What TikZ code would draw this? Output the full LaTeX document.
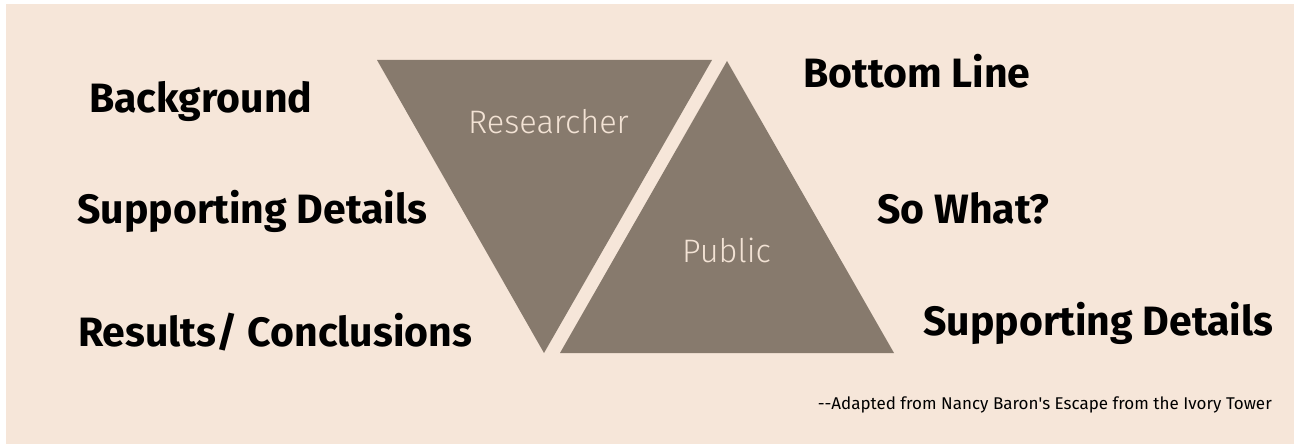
\documentclass[tikz,border=0pt]{standalone}
\usepackage{fontspec}
\setmainfont{Fira Sans}
\newfontfamily\lightfont{Fira Sans Light}
\definecolor{paper}{HTML}{F6E6D9}
\definecolor{taupe}{HTML}{877A6D}
\definecolor{cream}{HTML}{F2E2D4}

\begin{document}
\begin{tikzpicture}[x=1pt, y=-1pt,
  side/.style={anchor=base west, inner sep=0pt, font=\fontsize{41}{41}\selectfont\bfseries},
  inside/.style={anchor=base west, inner sep=0pt, text=cream, font=\lightfont\fontsize{32.5}{32.5}\selectfont}]
  \useasboundingbox (0,0) rectangle (1299,444);

  % --- Sheet ---
  \fill[white] (0,0) rectangle (1299,444);
  \fill[paper] (6,4) rectangle (1294,444);

  % --- Two triangles: the researcher's (inverted) and the public's ---
  \fill[taupe] (377,60) -- (712,60) -- (544,353) -- cycle;
  \fill[taupe] (727,61) -- (894,353) -- (560,353) -- cycle;

  \node[inside] (researcher) at (468,133) {Researcher};
  \node[inside] (public)     at (682,262) {Public};

  % --- Left column ---
  \node[side] (background) at (89,112) {Background};
  \node[side] (supportL)   at (77,223) {Supporting Details};
  \node[side] (results)    at (78,346) {Results/ Conclusions};

  % --- Right column ---
  \node[side] (bottomline) at (803,88)  {Bottom Line};
  \node[side] (sowhat)     at (877,223) {So What?};
  \node[side] (supportR)   at (923,335) {Supporting Details};

  % --- Source note ---
  \node[anchor=base east, inner sep=0pt, font=\fontsize{17}{17}\selectfont] (source) at (1272,409)
    {{-}{-}Adapted from Nancy Baron\textquotesingle s Escape from the Ivory Tower};
\end{tikzpicture}
\end{document}
